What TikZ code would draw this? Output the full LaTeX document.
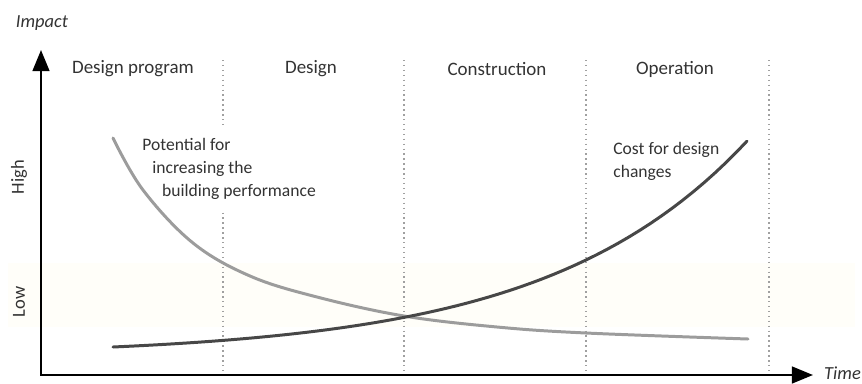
\documentclass[tikz,border=0pt]{standalone}
\usepackage{fontspec}
\setmainfont{Carlito}
\usetikzlibrary{arrows.meta}
\definecolor{textgray}{HTML}{333333}
\definecolor{lightcurve}{HTML}{9C9C9C}
\definecolor{darkcurve}{HTML}{474747}
\definecolor{dotgray}{HTML}{A0A0A0}
\definecolor{cream}{HTML}{FFFEF9}
\begin{document}
\begin{tikzpicture}[x=0.02cm,y=-0.02cm,
    phase/.style={text=textgray,font=\fontsize{10.8}{13}\selectfont},
    note/.style={text=textgray,font=\fontsize{10}{13}\selectfont,align=left,inner xsep=2pt},
    axislabel/.style={text=textgray,font=\fontsize{10.5}{13}\selectfont\itshape},
    level/.style={text=textgray,font=\fontsize{10.5}{13}\selectfont,rotate=90},
    divider/.style={dotgray,dotted,line width=0.8pt},
    axis/.style={line width=1.4pt,{Triangle[length=12pt,width=9.5pt]}-{Triangle[length=12pt,width=9.5pt]}},
    curve/.style={line width=1.7pt,line cap=round}]
  \useasboundingbox (0,0) rectangle (862,383);
  \fill[cream] (8,263) rectangle (855,327);
  % phase borders
  \foreach \x in {223,404,586,769}
    \draw[divider] (\x,60) -- (\x,375);
  % axes
  \coordinate (origin) at (41,375);
  \coordinate (ytip) at (41,50);
  \coordinate (xtip) at (813,375);
  \draw[axis] (ytip) -- (origin) -- (xtip);
  \node[axislabel] (impact) at (42,23) {Impact};
  \node[axislabel,anchor=west] (time) at (818,373) {Time};
  \node[level] (high) at (19,177) {High};
  \node[level] (low) at (19,302) {Low};
  % phases
  \node[phase] (program) at (133,69) {Design program};
  \node[phase] (design) at (311,69) {Design};
  \node[phase] (construction) at (497,69) {Construction};
  \node[phase] (operation) at (675,69) {Operation};
  % curves
  \node[note,fill=white,inner ysep=6pt,anchor=west] (potential) at (138.5,169)
    {Potential for\\\hspace*{5.7pt}increasing the\\\hspace*{11.3pt}building performance};
  \node[note,anchor=west] (cost) at (609.5,161) {Cost for design\\changes};
  \draw[curve,lightcurve] plot[smooth,tension=0.6] coordinates {(113,138) (143,190)
    (193,243) (250,276) (317,297) (404,316) (497,327) (586,333) (748,339)};
  \draw[curve,darkcurve] plot[domain=113:747,samples=60] (\x,{356-9*exp(0.005*(\x-113))});
\end{tikzpicture}
\end{document}
